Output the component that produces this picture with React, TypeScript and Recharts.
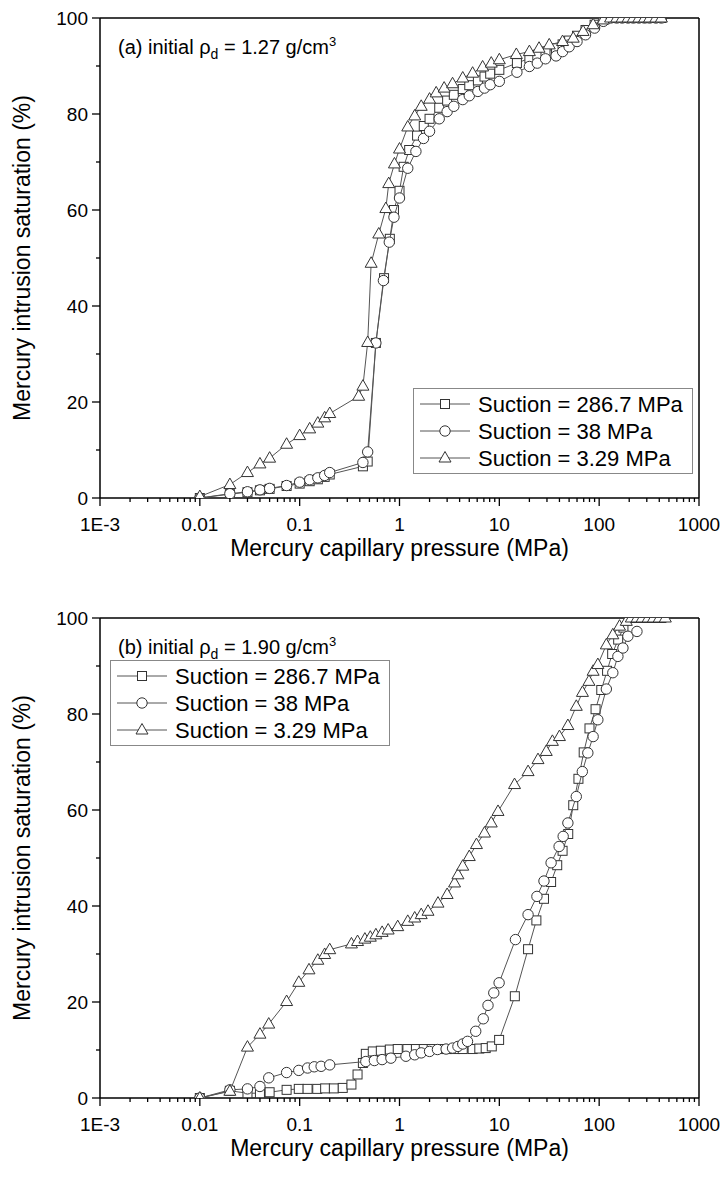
import React from 'react';
import { ScatterChart, Scatter, XAxis, YAxis, ReferenceLine, Legend } from 'recharts';

// (a) initial rho_d = 1.27 g/cm3
const aSqP = [0.01, 0.02, 0.03, 0.04, 0.05, 0.074, 0.1, 0.126, 0.152, 0.178, 0.2, 0.43, 0.48, 0.58, 0.7, 0.8, 0.88, 1.0, 1.1, 1.25, 1.5, 1.75, 2.0, 2.5, 3.0, 3.5, 4.3, 5.0, 6.1, 7.1, 8.1, 10, 15, 20, 24, 29, 37, 43, 50, 60, 73, 90, 110, 130, 150, 170, 195, 220, 250, 285, 320, 370, 420];
const aSqS = [0, 0.8, 1.2, 1.6, 1.9, 2.5, 3.0, 3.5, 3.9, 4.4, 4.9, 6.6, 7.6, 32.3, 45.8, 54, 60, 64, 69, 72.5, 75.5, 77.5, 79, 81.3, 82.8, 84, 85.2, 86, 87, 87.8, 88.4, 89.2, 90.6, 91.6, 92.3, 93, 93.7, 94.5, 95.3, 96.3, 97.5, 98.6, 99.6, 100, 100, 100, 100, 100, 100, 100, 100, 100, 100];
const aCiP = [0.01, 0.02, 0.03, 0.04, 0.05, 0.074, 0.1, 0.126, 0.152, 0.178, 0.2, 0.43, 0.48, 0.58, 0.69, 0.79, 0.88, 1.0, 1.21, 1.46, 1.74, 2.0, 2.5, 3.0, 3.5, 4.3, 5.0, 6.1, 7.1, 8.1, 10, 15, 20, 24, 29, 37, 43, 50, 60, 73, 90, 110, 130, 150, 170, 195, 220, 250, 285, 320, 370, 420];
const aCiS = [0, 0.9, 1.3, 1.7, 2.0, 2.6, 3.3, 3.8, 4.2, 4.7, 5.3, 7.4, 9.6, 32.3, 45.3, 53.3, 58.5, 62.5, 68.7, 72.2, 74.9, 76.4, 79, 80.5, 81.6, 83, 83.8, 84.7, 85.4, 86.1, 86.8, 88.7, 89.9, 90.6, 91.5, 92.1, 93, 94, 95.1, 96.5, 97.9, 99.3, 100, 100, 100, 100, 100, 100, 100, 100, 100, 100];
const aTrP = [0.01, 0.02, 0.03, 0.04, 0.05, 0.074, 0.1, 0.126, 0.152, 0.178, 0.2, 0.39, 0.43, 0.48, 0.52, 0.62, 0.73, 0.78, 0.89, 1.0, 1.21, 1.42, 1.65, 2.0, 2.33, 2.8, 3.4, 4.3, 5.4, 6.8, 8.3, 10, 14.8, 20, 25, 31.6, 43, 55, 69, 87, 110, 130, 150, 170, 195, 220, 250, 285, 320, 370, 420];
const aTrS = [0.3, 2.8, 5.3, 7.1, 8.3, 11.2, 13.0, 14.4, 15.6, 16.7, 17.6, 21.2, 23.3, 32.4, 48.9, 55, 60.3, 65.5, 69.6, 72.7, 77.3, 79.6, 81.6, 83.1, 84.4, 85.4, 86.3, 87.5, 88.5, 89.8, 90.6, 91.3, 92.4, 93, 93.7, 94.4, 95.1, 95.8, 97.2, 98.6, 99.6, 100, 100, 100, 100, 100, 100, 100, 100, 100, 100];

// (b) initial rho_d = 1.90 g/cm3
const bSqP = [0.01, 0.02, 0.03, 0.04, 0.05, 0.074, 0.098, 0.12, 0.15, 0.18, 0.22, 0.27, 0.33, 0.38, 0.43, 0.46, 0.54, 0.65, 0.8, 0.96, 1.2, 1.46, 1.75, 2.1, 2.5, 3.0, 3.6, 4.3, 5.4, 6.3, 7.3, 8.4, 9.95, 14.3, 19.4, 23.5, 28, 33, 38, 43, 49, 55, 62, 70, 80, 92, 105, 120, 135, 155, 175, 200, 230, 260, 300, 340, 380, 420];
const bSqS = [0, 1.5, 1.0, 1.0, 1.2, 1.7, 1.9, 1.9, 1.9, 2.0, 2.0, 2.1, 2.8, 4.9, 7.3, 9.2, 9.7, 9.85, 10.1, 10.2, 10.2, 10.2, 10.2, 10.2, 10.2, 10.2, 10.2, 10.2, 10.2, 10.3, 10.4, 10.75, 12.1, 21.2, 31, 37, 41.5, 45, 48.5, 51.5, 55, 61, 66.5, 72, 77, 81, 85, 89, 92.5, 95.5, 98, 100, 100, 100, 100, 100, 100, 100];
const bCiP = [0.01, 0.02, 0.03, 0.04, 0.049, 0.074, 0.098, 0.12, 0.14, 0.164, 0.2, 0.46, 0.56, 0.67, 0.82, 1.16, 1.42, 1.65, 2.0, 2.4, 2.93, 3.4, 3.85, 4.3, 4.8, 5.8, 6.9, 7.7, 8.8, 9.95, 14.5, 19.4, 23.8, 28, 33, 39.7, 43.6, 48.6, 59, 67.8, 77, 87, 97, 118, 137, 154, 173, 194, 239];
const bCiS = [0, 1.7, 1.9, 2.4, 4.2, 5.3, 5.75, 6.25, 6.5, 6.6, 6.9, 7.6, 7.8, 8.0, 8.3, 8.7, 9.0, 9.4, 9.7, 10.1, 10.2, 10.4, 10.75, 11.25, 11.8, 13.9, 16.5, 19.3, 21.9, 24, 33, 38.2, 42, 45.2, 49, 52.4, 54.5, 57.3, 62.8, 68, 71.9, 75.3, 78.8, 85.2, 88.6, 92, 93.75, 96.2, 97.2];
const bTrP = [0.01, 0.02, 0.03, 0.04, 0.049, 0.074, 0.098, 0.124, 0.152, 0.178, 0.2, 0.33, 0.38, 0.45, 0.51, 0.58, 0.67, 0.77, 0.96, 1.21, 1.42, 1.65, 1.93, 2.43, 3.0, 3.56, 3.85, 4.3, 5.0, 5.9, 7.1, 8.3, 9.7, 14.2, 19.4, 24.4, 29.5, 34, 40, 48.6, 59, 68, 79, 87, 97, 118, 137, 160, 187, 210, 240, 270, 310, 350, 400, 460];
const bTrS = [0, 1.4, 10.6, 13.3, 15.4, 20.1, 24.1, 26.7, 28.7, 29.9, 30.9, 32.1, 32.6, 33.1, 33.5, 34, 34.5, 35, 35.7, 36.8, 37.5, 38.2, 38.9, 40.6, 42.4, 44.8, 46.5, 48.3, 50.3, 52.8, 55.2, 57.3, 59.7, 65.3, 68, 70.5, 72.2, 74.3, 75.3, 77.6, 81.6, 84.5, 86.8, 88.9, 90.3, 94.4, 96.5, 98.3, 99.3, 100, 100, 100, 100, 100, 100, 100];

const seriesNames = ['Suction = 286.7 MPa', 'Suction = 38 MPa', 'Suction = 3.29 MPa'];
const seriesKinds = ['square', 'circle', 'triangle'];

const xMajor = [0.001, 0.01, 0.1, 1, 10, 100, 1000];
const xLabels = ['1E-3', '0.01', '0.1', '1', '10', '100', '1000'];
const yTicks = [0, 10, 20, 30, 40, 50, 60, 70, 80, 90, 100];
const yLabels = ['0', '', '20', '', '40', '', '60', '', '80', '', '100'];

const FONT = '"Liberation Sans", Arial, sans-serif';
const INK = '#333';

const xTicks: number[] = [];
xMajor.forEach((m, i) => {
  xTicks.push(m);
  if (i < xMajor.length - 1) for (let k = 2; k < 10; k++) xTicks.push(m * k);
});

const zip = (p: number[], s: number[]) => p.map((v, i) => ({ p: v, s: s[i] }));

function Marker({ kind, cx, cy }: any) {
  if (cx == null || cy == null) return null;
  if (kind === 'square')
    return <rect x={cx - 4.5} y={cy - 4.5} width={9} height={9} fill="#fff" stroke={INK} strokeWidth={1} />;
  if (kind === 'circle') return <circle cx={cx} cy={cy} r={5.2} fill="#fff" stroke={INK} strokeWidth={1} />;
  return (
    <polygon
      points={`${cx},${cy - 6.5} ${cx + 6},${cy + 4} ${cx - 6},${cy + 4}`}
      fill="#fff"
      stroke={INK}
      strokeWidth={1}
    />
  );
}

function XTick({ x, y, payload }: any) {
  const idx = xMajor.indexOf(payload.value);
  const major = idx >= 0;
  return (
    <g>
      <line x1={x} x2={x} y1={y} y2={y + (major ? 8 : 4)} stroke="#000" strokeWidth={1.3} />
      {major && (
        <text x={x} y={y + 33} textAnchor="middle" fontSize={19} fontFamily={FONT} fill="#000">
          {xLabels[idx]}
        </text>
      )}
    </g>
  );
}

function YTick({ x, y, payload }: any) {
  const idx = yTicks.indexOf(payload.value);
  const label = yLabels[idx];
  const major = label !== '';
  return (
    <g>
      <line x1={x - (major ? 8 : 4)} x2={x} y1={y} y2={y} stroke="#000" strokeWidth={1.3} />
      {major && (
        <text x={x - 12} y={y} dy="0.35em" textAnchor="end" fontSize={19} fontFamily={FONT} fill="#000">
          {label}
        </text>
      )}
    </g>
  );
}

function LegendBox() {
  return (
    <svg width={280} height={86} style={{ display: 'block' }}>
      <rect x={0.5} y={0.5} width={279} height={85} fill="#fff" stroke="#888" strokeWidth={1} />
      {seriesNames.map((name, i) => {
        const cy = 16 + i * 27;
        return (
          <g key={name}>
            <line x1={7} x2={57} y1={cy} y2={cy} stroke="#555" strokeWidth={1} />
            <Marker kind={seriesKinds[i]} cx={32} cy={cy} />
            <text x={65} y={cy} dy="0.35em" fontSize={22} fontFamily={FONT} fill="#000">
              {name}
            </text>
          </g>
        );
      })}
    </svg>
  );
}

function Panel({ top, tag, rho, series, legendLeft, legendTop }: any) {
  return (
    <div style={{ position: 'absolute', left: 0, top, width: 728, height: 582 }}>
      <ScatterChart width={728} height={582} margin={{ top: 18, right: 29, left: 0, bottom: 24 }}>
        <XAxis
          dataKey="p"
          type="number"
          scale="log"
          domain={[0.001, 1000]}
          allowDataOverflow
          ticks={xTicks}
          interval={0}
          tick={<XTick />}
          tickLine={false}
          tickSize={0}
          tickMargin={0}
          height={60}
          axisLine={{ stroke: '#000', strokeWidth: 1.5 }}
          label={{ value: 'Mercury capillary pressure (MPa)', position: 'insideBottom', offset: 2, fontSize: 23, fill: '#000', fontFamily: FONT }}
        />
        <YAxis
          dataKey="s"
          type="number"
          domain={[0, 100]}
          allowDataOverflow
          ticks={yTicks}
          interval={0}
          tick={<YTick />}
          tickLine={false}
          tickSize={0}
          tickMargin={0}
          width={100}
          axisLine={{ stroke: '#000', strokeWidth: 1.5 }}
          label={{ value: 'Mercury intrusion saturation (%)', angle: -90, position: 'insideLeft', offset: 22, fontSize: 23, fill: '#000', fontFamily: FONT, style: { textAnchor: 'middle' } }}
        />
        <ReferenceLine y={100} stroke="#000" strokeWidth={1.5} />
        <ReferenceLine x={1000} stroke="#000" strokeWidth={1.5} />
        {series.map((d: any[], i: number) => (
          <Scatter
            key={seriesNames[i]}
            name={seriesNames[i]}
            data={d}
            line={{ stroke: '#555', strokeWidth: 1 }}
            lineType="joint"
            shape={(props: any) => <Marker kind={seriesKinds[i]} cx={props.cx} cy={props.cy} />}
            isAnimationActive={false}
          />
        ))}
        <Legend
          layout="vertical"
          align="center"
          verticalAlign="middle"
          content={() => <LegendBox />}
          wrapperStyle={{ left: legendLeft, top: legendTop, width: 280, height: 86 }}
        />
      </ScatterChart>
      <div
        style={{
          position: 'absolute',
          left: 118,
          top: 37,
          fontSize: 20,
          lineHeight: '20px',
          fontFamily: FONT,
          color: '#000',
          whiteSpace: 'nowrap',
        }}
      >
        ({tag}) initial ρ<span style={{ fontSize: 14, position: 'relative', top: 5 }}>d</span> = {rho} g/cm
        <span style={{ fontSize: 13, position: 'relative', top: -8 }}>3</span>
      </div>
    </div>
  );
}

export default function App() {
  const seriesA = [zip(aSqP, aSqS), zip(aCiP, aCiS), zip(aTrP, aTrS)];
  const seriesB = [zip(bSqP, bSqS), zip(bCiP, bCiS), zip(bTrP, bTrS)];
  return (
    <div style={{ position: 'absolute', left: 0, top: 0, width: 728, height: 1182, background: '#fff' }}>
      <Panel top={0} tag="a" rho="1.27" series={seriesA} legendLeft={413} legendTop={388} />
      <Panel top={600} tag="b" rho="1.90" series={seriesB} legendLeft={110} legendTop={60} />
    </div>
  );
}
